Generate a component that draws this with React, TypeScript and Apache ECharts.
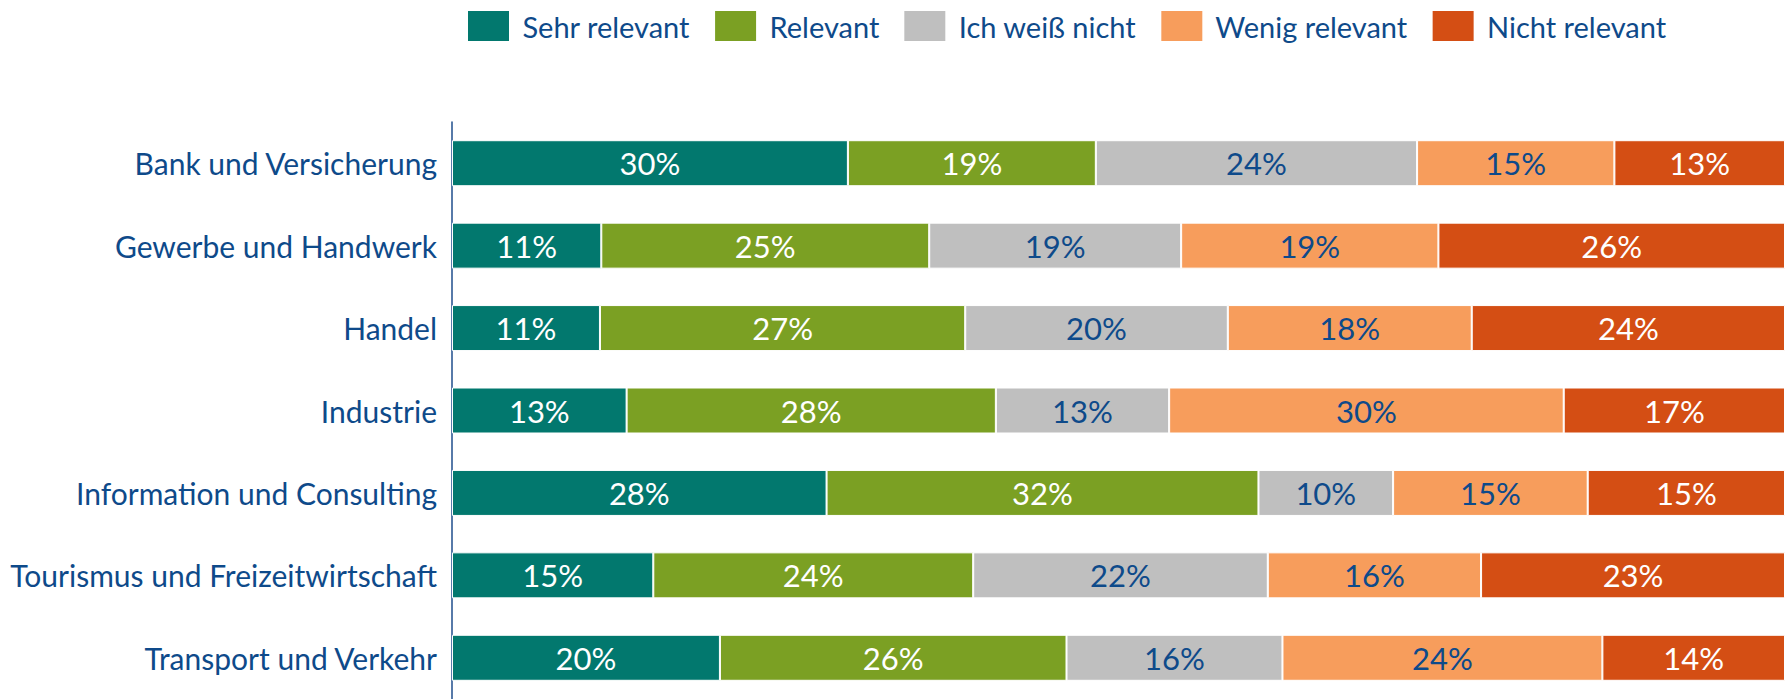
import React, { useEffect, useRef } from "react";
import * as echarts from "echarts";

const categories = [
  "Bank und Versicherung",
  "Gewerbe und Handwerk",
  "Handel",
  "Industrie",
  "Information und Consulting",
  "Tourismus und Freizeitwirtschaft",
  "Transport und Verkehr",
];

const seriesNames = ["Sehr relevant", "Relevant", "Ich weiß nicht", "Wenig relevant", "Nicht relevant"];

const sehrRelevant = [29.7, 11.2, 11.1, 13.1, 28.1, 15.1, 20.1];
const relevant = [18.6, 24.6, 27.4, 27.7, 32.4, 24.0, 26.0];
const ichWeissNicht = [24.1, 18.9, 19.7, 13.0, 10.1, 22.1, 16.2];
const wenigRelevant = [14.8, 19.3, 18.3, 29.6, 14.6, 16.0, 24.0];
const nichtRelevant = [12.8, 26.0, 23.5, 16.6, 14.8, 22.8, 13.7];

const colors = ["#02786E", "#7BA023", "#BFBFBF", "#F79D5C", "#D44E14"];
const labelColors = ["#FFFFFF", "#FFFFFF", "#0E4A8A", "#0E4A8A", "#FFFFFF"];
const textBlue = "#0E4A8A";
const fontFamily = "Lato, 'Open Sans', sans-serif";

export default function App() {
  const ref = useRef<HTMLDivElement>(null);
  useEffect(() => {
    if (!ref.current) return;
    const chart = echarts.init(ref.current, undefined, { renderer: "svg" });
    const data = [sehrRelevant, relevant, ichWeissNicht, wenigRelevant, nichtRelevant];
    chart.setOption({
      animation: false,
      backgroundColor: "#FFFFFF",
      legend: {
        data: seriesNames,
        left: 461,
        top: 4,
        itemWidth: 43,
        itemHeight: 32,
        itemGap: 23,
        icon: "rect",
        formatter: (name: string) => " " + name,
        textStyle: { fontSize: 29, color: textBlue, fontFamily },
      },
      grid: { left: 452, right: 0, top: 122, height: 584, containLabel: false },
      xAxis: { type: "value", min: 0, max: 100, show: false },
      yAxis: {
        type: "category",
        data: categories,
        inverse: true,
        axisLine: { show: true, lineStyle: { color: "#1F4E8C", width: 1.5 } },
        axisTick: { show: false },
        axisLabel: { fontSize: 30, color: textBlue, margin: 15, fontFamily },
        splitLine: { show: false },
      },
      series: seriesNames.map((name, i) => ({
        name,
        type: "bar",
        stack: "total",
        barWidth: 46,
        data: data[i],
        itemStyle: { color: colors[i], borderColor: "#FFFFFF", borderWidth: 1 },
        label: {
          show: true,
          position: "inside",
          fontSize: 31,
          color: labelColors[i],
          fontFamily,
          formatter: (p: any) => Math.round(p.value) + "%",
        },
      })),
    });
    return () => chart.dispose();
  }, []);
  return (
    <div
      ref={ref}
      style={{ position: "fixed", left: 0, top: 0, width: 1785, height: 699, background: "#fff" }}
    />
  );
}
